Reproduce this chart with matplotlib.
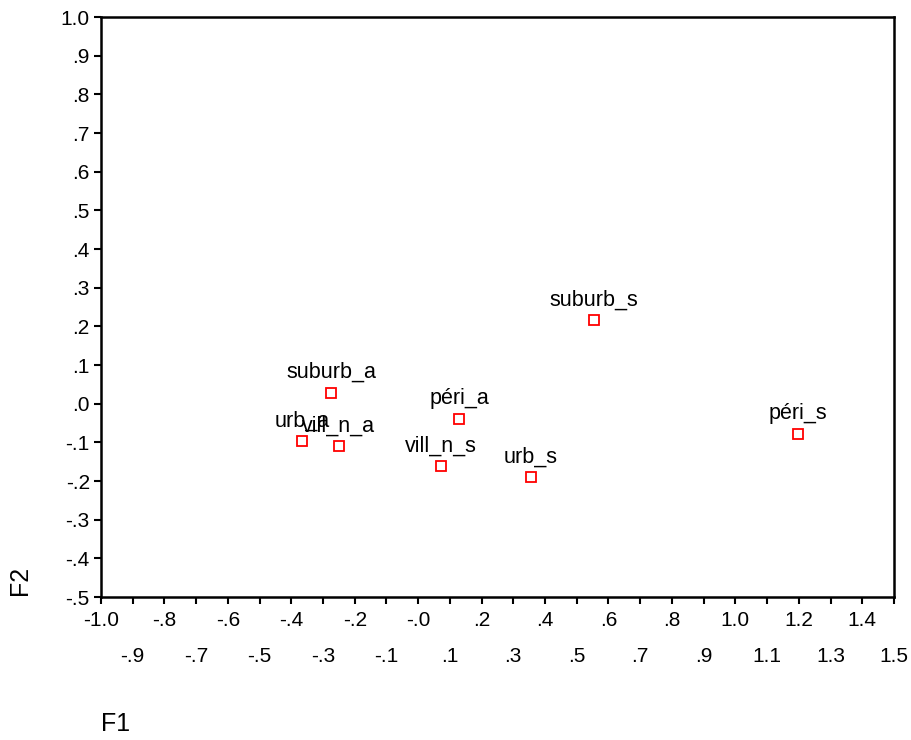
import numpy as np
import matplotlib.pyplot as plt

plt.rcParams['font.family'] = ['Liberation Sans', 'DejaVu Sans']

# Category points on the first two factors
names = ['suburb_a', 'urb_a', 'vill_n_a', 'péri_a', 'vill_n_s', 'urb_s', 'suburb_s', 'péri_s']
f1 = [-0.275, -0.366, -0.25, 0.129, 0.072, 0.356, 0.554, 1.197]
f2 = [0.028, -0.097, -0.11, -0.04, -0.161, -0.19, 0.216, -0.078]

# Axis ticks: x labels alternate between two rows
x_even = [-1.0, -0.8, -0.6, -0.4, -0.2, 0.0, 0.2, 0.4, 0.6, 0.8, 1.0, 1.2, 1.4]
x_even_lbl = ['-1.0', '-.8', '-.6', '-.4', '-.2', '-.0', '.2', '.4', '.6', '.8', '1.0', '1.2', '1.4']
x_odd = [-0.9, -0.7, -0.5, -0.3, -0.1, 0.1, 0.3, 0.5, 0.7, 0.9, 1.1, 1.3, 1.5]
x_odd_lbl = ['-.9', '-.7', '-.5', '-.3', '-.1', '.1', '.3', '.5', '.7', '.9', '1.1', '1.3', '1.5']
y_ticks = [1.0, 0.9, 0.8, 0.7, 0.6, 0.5, 0.4, 0.3, 0.2, 0.1, 0.0, -0.1, -0.2, -0.3, -0.4, -0.5]
y_lbl = ['1.0', '.9', '.8', '.7', '.6', '.5', '.4', '.3', '.2', '.1', '.0',
         '-.1', '-.2', '-.3', '-.4', '-.5']

fig = plt.figure(figsize=(9.12, 7.40), dpi=100)
ax = fig.add_axes([0.1107, 0.1932, 0.8695, 0.7838])

ax.plot(f1, f2, linestyle='none', marker='s', markersize=6.5,
        markerfacecolor='white', markeredgecolor='red', markeredgewidth=1.3)

for n, x, y in zip(names, f1, f2):
    ax.annotate(n, (x, y), xytext=(0, 7), textcoords='offset points',
                ha='center', va='bottom', fontsize=15.5)

ax.set_xlim(-1.0, 1.5)
ax.set_ylim(-0.5, 1.0)

ax.set_xticks(x_even)
ax.set_xticklabels(x_even_lbl)
ax.set_xticks(x_odd, minor=True)
ax.set_xticklabels(x_odd_lbl, minor=True)
ax.set_yticks(y_ticks)
ax.set_yticklabels(y_lbl)

ax.tick_params(axis='both', which='both', direction='out', length=5, width=1.5,
               labelsize=15, top=False, right=False)
ax.tick_params(axis='x', which='major', pad=5)
ax.tick_params(axis='x', which='minor', pad=31)
ax.tick_params(axis='y', pad=3)

for s in ax.spines.values():
    s.set_linewidth(1.8)

fig.text(0.022, 0.216, 'F2', rotation=90, ha='center', va='center', fontsize=18)
fig.text(0.127, 0.022, 'F1', ha='center', va='center', fontsize=18)

fig.savefig('out.png', dpi=100)
